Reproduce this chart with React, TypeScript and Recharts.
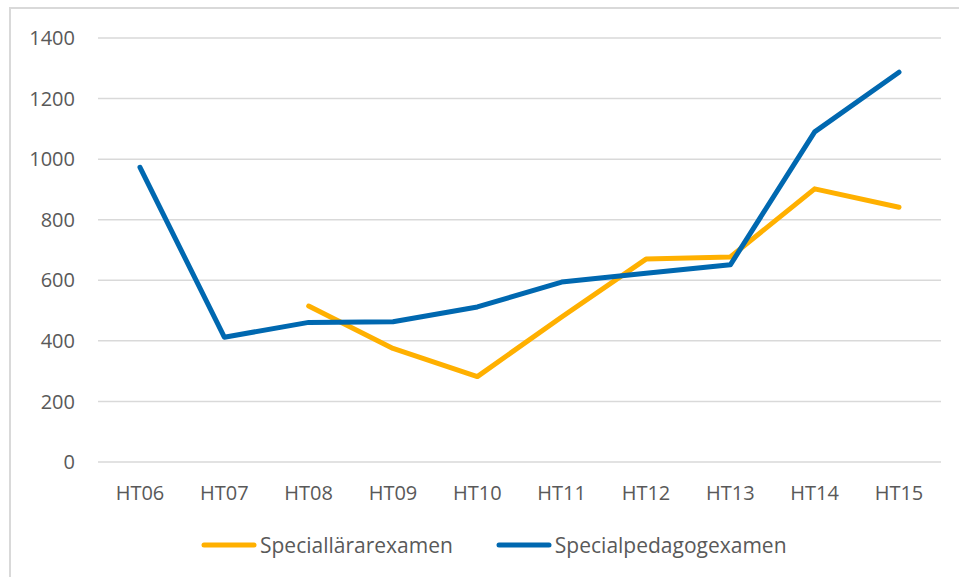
import React from 'react'
import {
  LineChart,
  Line,
  XAxis,
  YAxis,
  CartesianGrid,
  Legend,
} from 'recharts'

// terms on the x axis
const terms = ['HT06', 'HT07', 'HT08', 'HT09', 'HT10', 'HT11', 'HT12', 'HT13', 'HT14', 'HT15']

// degrees per term
const speciallarare = [null, null, 515, 375, 282, 479, 670, 677, 902, 841]
const specialpedagog = [973, 412, 461, 463, 512, 594, 623, 651, 1090, 1287]

const yTicks = [0, 200, 400, 600, 800, 1000, 1200, 1400]

const ORANGE = '#FFB000'
const BLUE = '#0068B0'
const TEXT = '#595959'
const FONT = '"Open Sans", sans-serif'

const data = terms.map((term, i) => ({
  term,
  Speciallärarexamen: speciallarare[i],
  Specialpedagogexamen: specialpedagog[i],
}))

const LegendContent = (props: any) => {
  const items = props.payload || []
  return (
    <div style={{ display: 'flex', alignItems: 'center', fontFamily: FONT, fontSize: 21, color: TEXT }}>
      {items.map((item: any, i: number) => (
        <div key={item.value} style={{ display: 'flex', alignItems: 'center', marginLeft: i === 0 ? 0 : 43 }}>
          <svg width={56} height={8} style={{ marginRight: 3 }}>
            <line x1={3} y1={4} x2={53} y2={4} stroke={item.color} strokeWidth={5} strokeLinecap="round" />
          </svg>
          <span>{item.value}</span>
        </div>
      ))}
    </div>
  )
}

export default function App() {
  return (
    <div style={{ position: 'absolute', left: 0, top: 0, width: 959, height: 577, background: '#fff', overflow: 'hidden' }}>
      <div
        style={{
          position: 'absolute',
          left: 9,
          top: 7,
          width: 1000,
          height: 1000,
          borderLeft: '2px solid #d9d9d9',
          borderTop: '2px solid #d9d9d9',
        }}
      />
      <div style={{ position: 'absolute', left: 0, top: 0 }}>
        <LineChart
          width={959}
          height={577}
          data={data}
          margin={{ top: 38, right: 18, left: 18, bottom: 75 }}
        >
          <CartesianGrid vertical={false} stroke="#d9d9d9" strokeWidth={1.5} />
          <XAxis
            dataKey="term"
            height={40}
            axisLine={false}
            tickLine={false}
            tickSize={0}
            tickMargin={24}
            padding={{ left: 42, right: 42 }}
            tick={{ fill: TEXT, fontSize: 20, fontFamily: FONT }}
          />
          <YAxis
            width={80}
            domain={[0, 1400]}
            ticks={yTicks}
            axisLine={false}
            tickLine={false}
            tickSize={0}
            tickMargin={23}
            tick={{ fill: TEXT, fontSize: 20, fontFamily: FONT }}
          />
          <Legend
            verticalAlign="middle"
            align="center"
            wrapperStyle={{ top: 531, left: 201, width: 740 }}
            content={<LegendContent />}
          />
          <Line
            dataKey="Speciallärarexamen"
            stroke={ORANGE}
            strokeWidth={5}
            strokeLinecap="round"
            strokeLinejoin="round"
            dot={false}
            activeDot={false}
            isAnimationActive={false}
          />
          <Line
            dataKey="Specialpedagogexamen"
            stroke={BLUE}
            strokeWidth={5}
            strokeLinecap="round"
            strokeLinejoin="round"
            dot={false}
            activeDot={false}
            isAnimationActive={false}
          />
        </LineChart>
      </div>
    </div>
  )
}
